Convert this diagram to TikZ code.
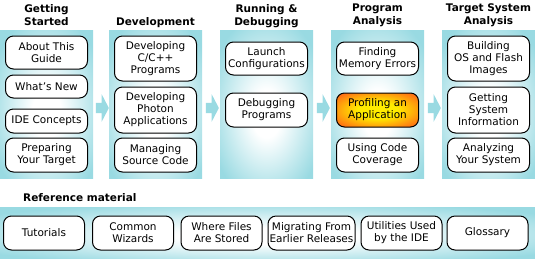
\documentclass[tikz,border=0pt]{standalone}
\usepackage{fontspec}
\setmainfont{DejaVu Sans}
\usetikzlibrary{shapes,calc}
\definecolor{panelcyan}{RGB}{153,218,226}
\definecolor{hotorange}{RGB}{255,110,20}
\definecolor{hotyellow}{RGB}{255,236,0}
\pgfdeclareradialshading{glow}{\pgfpoint{0bp}{-4bp}}{color(0bp)=(white); color(8bp)=(white); color(32bp)=(panelcyan); color(50bp)=(panelcyan)}
\pgfdeclareradialshading{hotglow}{\pgfpoint{0bp}{0bp}}{color(0bp)=(hotyellow); color(12bp)=(hotyellow); color(32bp)=(hotorange); color(50bp)=(hotorange)}
\tikzstyle{panel}=[rectangle,shading=glow,inner sep=0pt,minimum width=93pt,minimum height=148pt]
\tikzstyle{topic}=[rectangle,rounded corners=8pt,draw=black,line width=1pt,fill=white,align=center,minimum width=82pt,inner sep=1pt,font=\fontsize{10.5}{12}\selectfont]
\tikzstyle{current}=[topic,shading=hotglow]
\tikzstyle{stage}=[font=\fontsize{10.5}{13}\selectfont\bfseries,align=center,anchor=north,inner sep=0pt]
\tikzstyle{flow}=[single arrow,fill=panelcyan,inner xsep=0pt,inner ysep=5pt,minimum height=13pt,single arrow head extend=8.5pt,single arrow tip angle=125]

\begin{document}
\begin{tikzpicture}[x=1pt,y=-1pt]
\useasboundingbox (0,0) rectangle (535,258);
\node[panel] (gs) at (46.5,104) {};
\node[panel] (dev) at (155.5,104) {};
\node[panel] (run) at (266.5,104) {};
\node[panel] (prog) at (377.5,104) {};
\node[panel] (tgt) at (488.5,104) {};
\node[flow] (a1) at ($(gs.east)!0.5!(dev.west)+(0,4)$) {};
\node[flow] (a2) at ($(dev.east)!0.5!(run.west)+(0,4)$) {};
\node[flow] (a3) at ($(run.east)!0.5!(prog.west)+(0,4)$) {};
\node[flow] (a4) at ($(prog.east)!0.5!(tgt.west)+(0,4)$) {};
\node[stage] (hgs) at (46.5,4) {Getting\\Started};
\node[stage] (hdev) at (155.5,17) {Development};
\node[stage] (hrun) at (266.5,4) {Running \&\\Debugging};
\node[stage] (hprog) at (377.5,4) {Program\\Analysis};
\node[stage] (htgt) at (488.5,4) {Target System\\Analysis};
\node[topic,minimum height=33pt] (about) at (46.5,52.5) {About This\\Guide};
\node[topic,minimum height=23pt] (new) at (46.5,86.5) {What's New};
\node[topic,minimum height=24pt] (ide) at (46.5,121) {IDE Concepts};
\node[topic,minimum height=34pt] (prep) at (46.5,155) {Preparing\\Your Target};
\node[topic,minimum height=45pt] (cpp) at (155.5,58.5) {Developing\\C/C++\\Programs};
\node[topic,minimum height=46pt] (photon) at (155.5,110) {Developing\\Photon\\Applications};
\node[topic,minimum height=34pt] (src) at (155.5,155) {Managing\\Source Code};
\node[topic,minimum height=33pt] (launch) at (266.5,58.5) {Launch\\Configurations};
\node[topic,minimum height=34pt] (debug) at (266.5,110) {Debugging\\Programs};
\node[topic,minimum height=33pt] (mem) at (377.5,58.5) {Finding\\Memory Errors};
\node[current,minimum height=34pt] (profile) at (377.5,110) {Profiling an\\Application};
\node[topic,minimum height=34pt] (cover) at (377.5,155) {Using Code\\Coverage};
\node[topic,minimum height=45pt] (build) at (488.5,58.5) {Building\\OS and Flash\\Images};
\node[topic,minimum height=46pt] (sysinfo) at (488.5,110) {Getting\\System\\Information};
\node[topic,minimum height=34pt] (analyze) at (488.5,155) {Analyzing\\Your System};
\node[stage,anchor=north west] (href) at (23,193) {Reference material};
\node[panel,minimum width=535pt,minimum height=51pt] (ref) at (267.5,232.5) {};
\node[topic,minimum height=34pt,minimum width=81pt] (tut) at (44,233) {Tutorials};
\node[topic,minimum height=34pt,minimum width=81pt] (wiz) at (133,233) {Common\\Wizards};
\node[topic,minimum height=34pt,minimum width=81pt] (files) at (221.5,233) {Where Files\\Are Stored};
\node[topic,minimum height=34pt,minimum width=87pt] (migr) at (311.5,233) {Migrating From\\Earlier Releases};
\node[topic,minimum height=34pt,minimum width=81pt] (util) at (401.5,233) {Utilities Used\\by the IDE};
\node[topic,minimum height=34pt,minimum width=81pt] (gloss) at (487.5,233) {Glossary};
\end{tikzpicture}
\end{document}
